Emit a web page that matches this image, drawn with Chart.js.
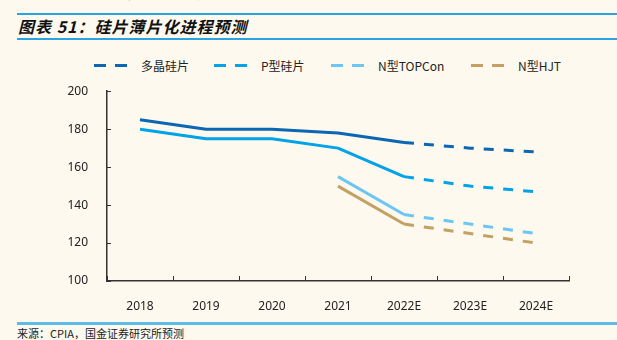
<!DOCTYPE html>
<html lang="zh">

<head>
    <meta charset="UTF-8">
    <title>硅片薄片化进程预测</title>
    <script src="https://cdn.jsdelivr.net/npm/chart.js"></script>
    <style>
        body {
            margin: 0;
            width: 617px;
            height: 340px;
            overflow: hidden;
            position: relative;
            background: #fdf9ee;
            font-family: "Noto Sans CJK SC", "Noto Sans", sans-serif;
            color: #222;
        }

        .rule {
            position: absolute;
            left: 17px;
            right: 0;
            height: 2px;
            background: #2aa3e2;
        }

        #topText {
            position: absolute;
            left: 70px;
            top: -18px;
            font-size: 14px;
            line-height: 20px;
            color: #555;
            white-space: nowrap;
        }

        #title {
            position: absolute;
            left: 18px;
            top: 15px;
            font-size: 16px;
            font-weight: bold;
            font-style: italic;
            letter-spacing: 1px;
            line-height: 22px;
            color: #111;
            white-space: nowrap;
        }

        #source {
            position: absolute;
            left: 17px;
            top: 326px;
            font-size: 11px;
            line-height: 14px;
            color: #222;
            white-space: nowrap;
        }

        .legend-item {
            position: absolute;
            top: 57px;
            height: 16px;
            display: flex;
            align-items: center;
            font-size: 12px;
            white-space: nowrap;
            color: #222;
        }

        .dash {
            width: 12px;
            height: 3px;
            margin-right: 9px;
        }

        .legend-item span {
            margin-left: 5px;
        }

        #chart-box {
            position: absolute;
            left: 0;
            top: 73px;
            width: 617px;
            height: 237px;
        }
    </style>
</head>

<body>
    <div id="topText">硅片薄片化持续推进，单片硅耗有望进一步下降。</div>
    <div class="rule" style="top: 13px;"></div>
    <div id="title">图表 51：硅片薄片化进程预测</div>
    <div class="rule" style="top: 38px;"></div>
    <div id="legend"></div>
    <div id="chart-box">
        <canvas id="waferChart"></canvas>
    </div>
    <div class="rule" style="top: 322px; height: 3px; background: #5bbde6;"></div>
    <div id="source">来源：CPIA，国金证券研究所预测</div>

    <script>
        // 年份（2022E 起为预测值）
        const years = ['2018', '2019', '2020', '2021', '2022E', '2023E', '2024E'];

        // 硅片厚度（μm）
        const polyWafer = [185, 180, 180, 178, 173, 170, 168];
        const pTypeWafer = [180, 175, 175, 170, 155, 150, 147];
        const nTopcon = [null, null, null, 155, 135, 130, 125];
        const nHjt = [null, null, null, 150, 130, 125, 120];

        const seriesNames = ['多晶硅片', 'P型硅片', 'N型TOPCon', 'N型HJT'];
        const seriesColors = ['#0b66b4', '#00a2e8', '#6cc5f2', '#c3a063'];
        const yTicks = [100, 120, 140, 160, 180, 200];

        const firstForecast = years.indexOf('2022E');
        const legendX = [94, 214, 331, 471];

        // 图例：两段短虚线 + 名称
        const legend = document.getElementById('legend');
        seriesNames.forEach((name, i) => {
            const item = document.createElement('div');
            item.className = 'legend-item';
            item.style.left = legendX[i] + 'px';
            item.innerHTML =
                `<div class="dash" style="background:${seriesColors[i]}"></div>` +
                `<div class="dash" style="background:${seriesColors[i]}"></div>` +
                `<span>${name}</span>`;
            legend.appendChild(item);
        });

        const axisColor = '#333';

        // 刻度线朝图内画
        const innerTicks = {
            id: 'innerTicks',
            afterDraw(chart) {
                const { ctx, scales: { x, y } } = chart;
                ctx.save();
                ctx.strokeStyle = axisColor;
                ctx.lineWidth = 1;
                const step = x.getPixelForTick(1) - x.getPixelForTick(0);
                for (let i = 0; i <= years.length; i++) {
                    const px = Math.round(x.getPixelForTick(0) - step / 2 + i * step) + 0.5;
                    ctx.beginPath();
                    ctx.moveTo(px, y.bottom);
                    ctx.lineTo(px, y.bottom - 5);
                    ctx.stroke();
                }
                yTicks.forEach(v => {
                    const py = Math.round(y.getPixelForValue(v)) + 0.5;
                    ctx.beginPath();
                    ctx.moveTo(x.left, py);
                    ctx.lineTo(x.left + 4, py);
                    ctx.stroke();
                });
                ctx.restore();
            }
        };

        const series = [polyWafer, pTypeWafer, nTopcon, nHjt];

        new Chart(document.getElementById('waferChart'), {
            type: 'line',
            data: {
                labels: years,
                datasets: series.map((values, i) => ({
                    label: seriesNames[i],
                    data: values,
                    borderColor: seriesColors[i],
                    backgroundColor: seriesColors[i],
                    borderWidth: 3,
                    pointRadius: 0,
                    pointHoverRadius: 0,
                    tension: 0,
                    borderJoinStyle: 'round',
                    segment: {
                        borderDash: ctx => ctx.p0DataIndex >= firstForecast ? [10, 10] : undefined
                    }
                }))
            },
            options: {
                responsive: true,
                maintainAspectRatio: false,
                animation: false,
                layout: {
                    padding: { top: 3, right: 48, bottom: 0, left: 0 }
                },
                plugins: {
                    legend: { display: false },
                    tooltip: { enabled: false }
                },
                scales: {
                    x: {
                        offset: true,
                        grid: { display: false, offset: true },
                        border: { display: true, color: axisColor, width: 1.5 },
                        ticks: {
                            color: '#222',
                            padding: 10,
                            maxRotation: 0,
                            font: { size: 12, family: '"Noto Sans", sans-serif' }
                        },
                        afterFit(scale) { scale.height = 29; }
                    },
                    y: {
                        min: 100,
                        max: 200,
                        grid: { display: false },
                        border: { display: true, color: axisColor, width: 1.5 },
                        ticks: {
                            stepSize: 20,
                            color: '#222',
                            padding: 11,
                            font: { size: 12, family: '"Noto Sans", sans-serif' }
                        },
                        afterFit(scale) { scale.width = 107; }
                    }
                }
            },
            plugins: [innerTicks]
        });
    </script>
</body>

</html>
